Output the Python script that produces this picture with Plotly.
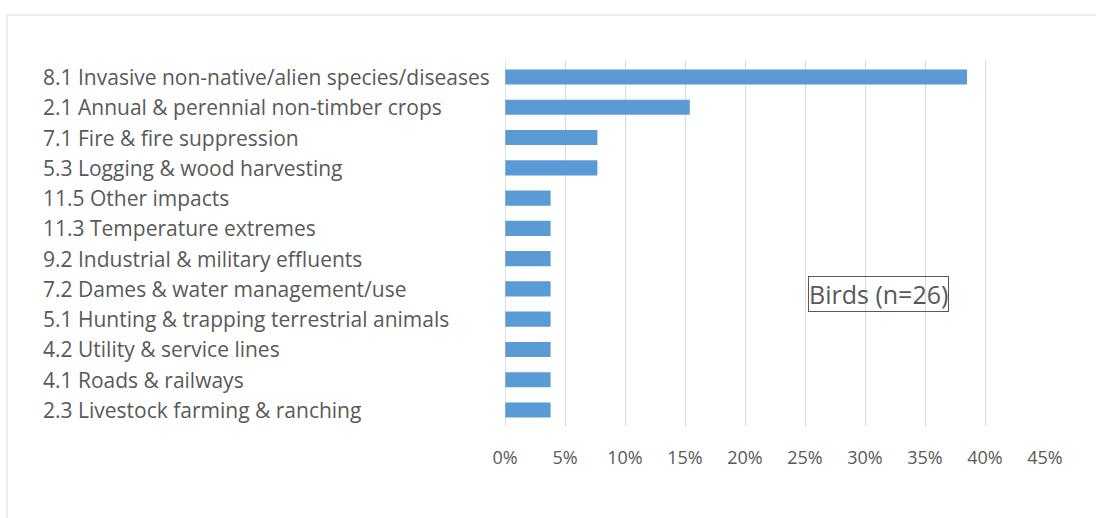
import plotly.graph_objects as go

categories = [
    "8.1 Invasive non-native/alien species/diseases",
    "2.1 Annual & perennial non-timber crops",
    "7.1 Fire & fire suppression",
    "5.3 Logging & wood harvesting",
    "11.5 Other impacts",
    "11.3 Temperature extremes",
    "9.2 Industrial & military effluents",
    "7.2 Dames & water management/use",
    "5.1 Hunting & trapping terrestrial animals",
    "4.2 Utility & service lines",
    "4.1 Roads & railways",
    "2.3 Livestock farming & ranching",
]
values = [0.385, 0.154, 0.077, 0.077, 0.038, 0.038, 0.038, 0.038, 0.038, 0.038, 0.038, 0.038]
tick_vals = [0, 0.05, 0.10, 0.15, 0.20, 0.25, 0.30, 0.35, 0.40, 0.45]
tick_text = ["0%", "5%", "10%", "15%", "20%", "25%", "30%", "35%", "40%", "45%"]
annotation_text = "Birds (n=26)"

W, H = 1096, 518
L, R, T, B = 505, 51, 61, 92
pw = W - L - R
ph = H - T - B

fig = go.Figure(go.Bar(
    x=values, y=categories, orientation="h",
    marker=dict(color="#5B9BD5", line=dict(width=0)),
    width=0.5,
))

font_family = "Open Sans, Noto Sans, sans-serif"
label_annotations = [
    dict(text=c, xref="paper", yref="y", x=(41 - L) / pw, y=c,
         xanchor="left", yanchor="middle", showarrow=False,
         font=dict(size=21, color="#595959", family=font_family))
    for c in categories
]

fig.update_layout(
    width=W, height=H,
    margin=dict(l=L, r=R, t=T, b=B, pad=0),
    paper_bgcolor="white", plot_bgcolor="white",
    showlegend=False,
    font=dict(family=font_family, color="#595959", size=18),
    xaxis=dict(
        range=[0, 0.45], tickvals=tick_vals, ticktext=tick_text,
        showgrid=True, gridcolor="#d9d9d9", gridwidth=1,
        zeroline=False, showline=False, ticks="", ticklen=0,
        ticklabelstandoff=19,
        tickfont=dict(size=18, color="#595959"),
    ),
    yaxis=dict(
        categoryorder="array", categoryarray=categories,
        autorange="reversed",
        showgrid=False, zeroline=False,
        showline=False, ticks="", showticklabels=False,
    ),
    shapes=[
        dict(type="line", xref="x", yref="paper", x0=0, x1=0, y0=0, y1=1,
             line=dict(color="#bfbfbf", width=1)),
        dict(type="rect", xref="paper", yref="paper",
             x0=(7 - L) / pw, x1=(W + 10 - L) / pw,
             y0=(H - B - (H + 10)) / ph, y1=(H - B - 15) / ph,
             line=dict(color="#d9d9d9", width=1), fillcolor="rgba(0,0,0,0)",
             layer="below"),
    ],
    annotations=label_annotations + [
        dict(text=annotation_text, xref="x", yref="paper",
             x=0.311, y=(H - B - 294) / ph, showarrow=False,
             font=dict(size=25, color="#595959", family=font_family),
             bordercolor="#595959", borderwidth=1, borderpad=0,
             bgcolor="rgba(255,255,255,0)"),
    ],
)

fig.write_html("out.html", config={"displayModeBar": False},
               post_script="document.body.style.margin='0';")
